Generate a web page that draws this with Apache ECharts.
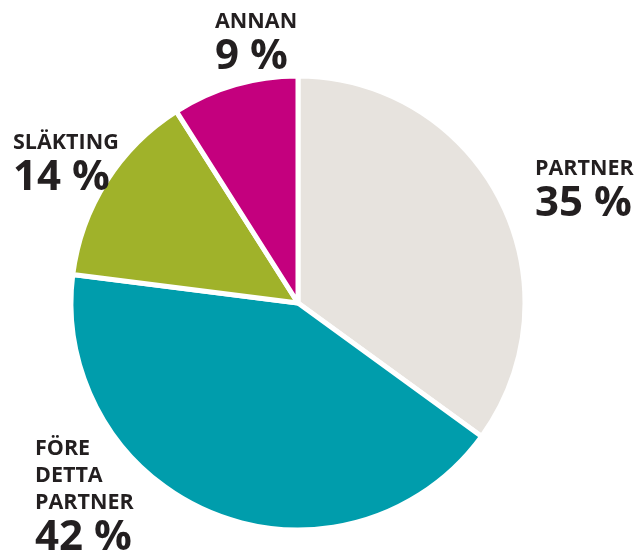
<!DOCTYPE html>
<html>
<head>
<meta charset="utf-8">
<script src="https://cdn.jsdelivr.net/npm/echarts@6/dist/echarts.min.js"></script>
<style>
  html, body { margin: 0; padding: 0; background: #fff; }
  #chart { width: 635px; height: 554px; }
</style>
</head>
<body>
<div id="chart"></div>
<script>
// slices, clockwise from 12 o'clock
const names = ["PARTNER", "FÖRE\nDETTA\nPARTNER", "SLÄKTING", "ANNAN"];
const shares = [35, 42, 14, 9];
const colors = ["#e7e3de", "#009dac", "#a0b22a", "#c4007e"];

// where each label's top-left corner goes
const labelSpots = [[535, 155], [35, 435], [13, 129], [215, 8]];

const chart = echarts.init(document.getElementById("chart"));

chart.setOption({
    animation: false,
    series: [{
        type: "pie",
        center: [298, 303],
        radius: [0, 227],
        startAngle: 90,
        clockwise: true,
        itemStyle: {borderColor: "#fff", borderWidth: 5},
        label: {
            show: true,
            position: "outside",
            overflow: "none",
            formatter: p => `{n|${p.name.split("\n").join("}\n{n|")}}\n{p|${p.value} %}`,
            rich: {
                n: {fontFamily: "Open Sans", fontWeight: "bold", fontSize: 21.5, lineHeight: 27, color: "#231f20"},
                p: {fontFamily: "Open Sans", fontWeight: "bold", fontSize: 42, lineHeight: 44, color: "#231f20"}
            }
        },
        labelLine: {show: false},
        labelLayout: params => ({
            x: labelSpots[params.dataIndex][0],
            y: labelSpots[params.dataIndex][1],
            align: "left",
            verticalAlign: "top"
        }),
        emphasis: {disabled: true},
        data: shares.map((v, i) => ({
            name: names[i],
            value: v,
            itemStyle: {color: colors[i]}
        }))
    }]
});
</script>
</body>
</html>
